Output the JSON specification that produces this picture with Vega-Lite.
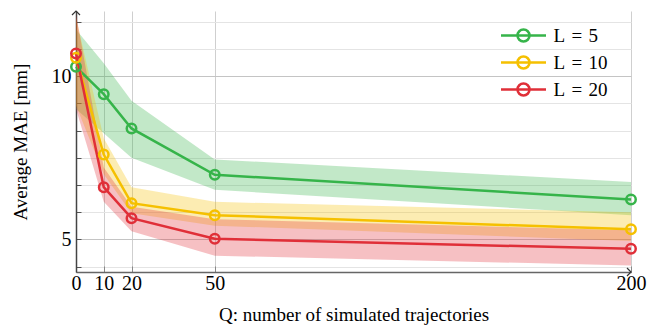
{
  "$schema": "https://vega.github.io/schema/vega-lite/v6.json",
  "width": 555,
  "height": 261,
  "autosize": {"type": "none"},
  "padding": {"left": 76, "top": 11, "right": 17, "bottom": 56},
  "background": "white",
  "config": {
    "font": "Liberation Serif",
    "view": {"stroke": null},
    "axis": {"labelFont": "Liberation Serif", "titleFont": "Liberation Serif", "labelFontSize": 20, "titleFontSize": 19, "labelColor": "black", "titleColor": "black", "titleFontWeight": "normal"},
    "legend": {"labelFont": "Liberation Serif", "labelFontSize": 19, "labelColor": "black"}
  },
  "datasets": {
    "main": [
      {"Q": 0, "L": "L = 5", "mean": 10.29, "lo": 9.0, "hi": 11.43},
      {"Q": 10, "L": "L = 5", "mean": 9.45, "lo": 8.25, "hi": 10.4},
      {"Q": 20, "L": "L = 5", "mean": 8.4, "lo": 7.5, "hi": 9.25},
      {"Q": 50, "L": "L = 5", "mean": 6.98, "lo": 6.52, "hi": 7.45},
      {"Q": 200, "L": "L = 5", "mean": 6.22, "lo": 5.74, "hi": 6.76},
      {"Q": 0, "L": "L = 10", "mean": 10.57, "lo": 9.1, "hi": 11.8},
      {"Q": 10, "L": "L = 10", "mean": 7.6, "lo": 7.0, "hi": 8.1},
      {"Q": 20, "L": "L = 10", "mean": 6.11, "lo": 5.8, "hi": 6.6},
      {"Q": 50, "L": "L = 10", "mean": 5.74, "lo": 5.42, "hi": 6.15},
      {"Q": 200, "L": "L = 10", "mean": 5.31, "lo": 4.95, "hi": 5.83},
      {"Q": 0, "L": "L = 20", "mean": 10.7, "lo": 9.0, "hi": 11.9},
      {"Q": 10, "L": "L = 20", "mean": 6.6, "lo": 6.15, "hi": 7.2},
      {"Q": 20, "L": "L = 20", "mean": 5.65, "lo": 5.25, "hi": 6.0},
      {"Q": 50, "L": "L = 20", "mean": 5.02, "lo": 4.5, "hi": 5.62},
      {"Q": 200, "L": "L = 20", "mean": 4.71, "lo": 4.2, "hi": 5.28}
    ],
    "arrows": [
      {"Q": 0, "v": 12, "dir": "up"},
      {"Q": 200, "v": 4, "dir": "right"}
    ]
  },
  "layer": [
    {
      "data": {"name": "main"},
      "transform": [{"filter": "datum.L == 'L = 5'"}],
      "mark": {"type": "area", "opacity": 0.3, "color": "#36b44a"},
      "encoding": {
        "x": {
          "field": "Q", "type": "quantitative",
          "scale": {"domain": [0, 200], "nice": false, "zero": false},
          "title": "Q: number of simulated trajectories",
          "axis": {
            "values": [0, 10, 20, 50, 200], "format": "d", "tickCount": 20,
            "grid": true, "gridColor": "#cfcfcf", "gridWidth": 1,
            "domainColor": "#666", "domainWidth": 1.5,
            "tickColor": "#888", "tickSize": -6, "tickWidth": 1,
            "labelPadding": 7, "titlePadding": 12, "labelFlush": false, "labelOverlap": false
          }
        },
        "y": {
          "field": "lo", "type": "quantitative",
          "scale": {"domain": [4, 12], "nice": false, "zero": false},
          "title": "Average MAE [mm]",
          "axis": {
            "values": [4.1666667, 5, 5.8333333, 6.6666667, 7.5, 8.3333333, 9.1666667, 10, 10.8333333, 11.6666667],
            "tickCount": 20,
            "labelExpr": "(datum.value == 5 || datum.value == 10) ? format(datum.value, 'd') : ''",
            "grid": true,
            "gridColor": {"condition": {"test": "datum.value == 5 || datum.value == 10", "value": "#c4c4c4"}, "value": "#e4e4e4"},
            "gridWidth": 1,
            "domainColor": "#444", "domainWidth": 1.5,
            "tickColor": "#555", "tickSize": -5, "tickWidth": 1,
            "labelPadding": 10, "titlePadding": 21, "labelOverlap": false
          }
        },
        "y2": {"field": "hi"}
      }
    },
    {
      "data": {"name": "main"},
      "transform": [{"filter": "datum.L == 'L = 10'"}],
      "mark": {"type": "area", "opacity": 0.3, "color": "#f5c000"},
      "encoding": {
        "x": {"field": "Q", "type": "quantitative", "title": "Q: number of simulated trajectories"},
        "y": {"field": "lo", "type": "quantitative", "title": "Average MAE [mm]"},
        "y2": {"field": "hi"}
      }
    },
    {
      "data": {"name": "main"},
      "transform": [{"filter": "datum.L == 'L = 20'"}],
      "mark": {"type": "area", "opacity": 0.3, "color": "#e02f38"},
      "encoding": {
        "x": {"field": "Q", "type": "quantitative", "title": "Q: number of simulated trajectories"},
        "y": {"field": "lo", "type": "quantitative", "title": "Average MAE [mm]"},
        "y2": {"field": "hi"}
      }
    },
    {
      "data": {"name": "main"},
      "mark": {"type": "line", "strokeWidth": 2.5},
      "encoding": {
        "x": {"field": "Q", "type": "quantitative", "title": "Q: number of simulated trajectories"},
        "y": {"field": "mean", "type": "quantitative", "title": "Average MAE [mm]"},
        "color": {
          "field": "L", "type": "nominal",
          "scale": {"domain": ["L = 5", "L = 10", "L = 20"], "range": ["#36b44a", "#f5c000", "#e02f38"]},
          "legend": {
            "title": null, "orient": "none", "legendX": 438, "legendY": 15,
            "symbolType": "M-4.5,0H4.5M1.2,0A1.2,1.2,0,1,1,-1.2,0A1.2,1.2,0,1,1,1.2,0",
            "symbolSize": 100, "symbolStrokeWidth": 2.5,
            "labelOffset": 20.5, "rowPadding": 4,
            "labelExpr": "replace(datum.label, ' = ', '\u2004=\u2004')"
          }
        }
      }
    },
    {
      "data": {"name": "main"},
      "mark": {"type": "point", "filled": false, "strokeWidth": 2.5, "size": 90, "opacity": 1},
      "encoding": {
        "x": {"field": "Q", "type": "quantitative", "title": "Q: number of simulated trajectories"},
        "y": {"field": "mean", "type": "quantitative", "title": "Average MAE [mm]"},
        "color": {"field": "L", "type": "nominal"}
      }
    },
    {
      "data": {"name": "arrows"},
      "mark": {"type": "point", "filled": false, "stroke": "#333", "strokeWidth": 1.2, "size": 64, "opacity": 1},
      "encoding": {
        "x": {"field": "Q", "type": "quantitative", "title": "Q: number of simulated trajectories"},
        "y": {"field": "v", "type": "quantitative", "title": "Average MAE [mm]"},
        "shape": {
          "field": "dir", "type": "nominal",
          "scale": {"domain": ["up", "right"], "range": ["M-1,1L0,0L1,1", "M-1,-1L0,0L-1,1"]},
          "legend": null
        }
      }
    }
  ]
}
